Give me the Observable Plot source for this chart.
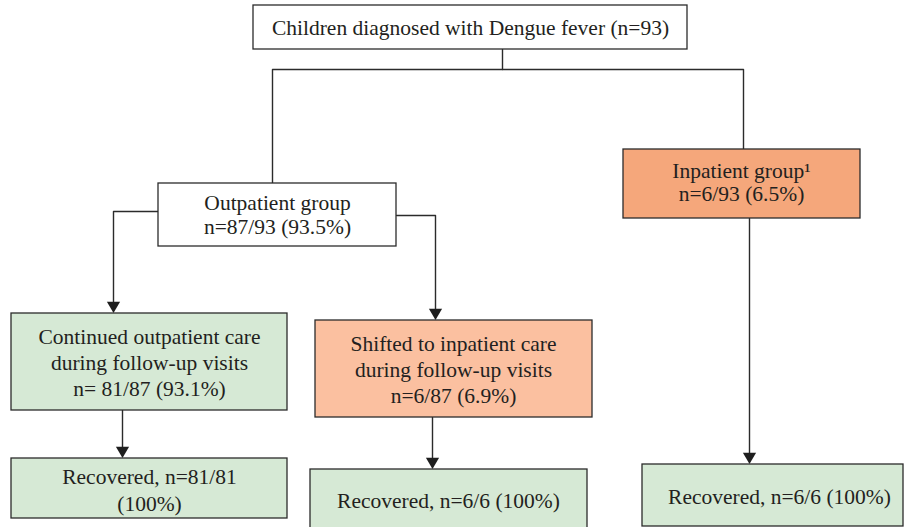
<!DOCTYPE html>
<html>
<head>
<meta charset="utf-8">
<script src="https://cdn.jsdelivr.net/npm/d3@7"></script>
<script src="https://cdn.jsdelivr.net/npm/@observablehq/plot@0.6"></script>
<style>
  html, body { margin: 0; padding: 0; background: #fff; }
  #chart svg { display: block; }
</style>
</head>
<body>
<div id="chart"></div>
<script>
// ---- data ----
const nodeIds = ["all", "outpatient", "inpatient", "continued", "shifted", "recovered1", "recovered2", "recovered3"];
const nodeLabels = [
  "Children diagnosed with Dengue fever (n=93)",
  "Outpatient group\nn=87/93 (93.5%)",
  "Inpatient group¹\nn=6/93 (6.5%)",
  "Continued outpatient care\nduring follow-up visits\nn= 81/87 (93.1%)",
  "Shifted to inpatient care\nduring follow-up visits\nn=6/87 (6.9%)",
  "Recovered, n=81/81\n(100%)",
  "Recovered, n=6/6 (100%)",
  "Recovered, n=6/6 (100%)"
];
const nodeCounts = [93, 87, 6, 81, 6, 81, 6, 6];
const nodeKinds = ["neutral", "neutral", "inpatient", "recovered", "shifted", "recovered", "recovered", "recovered"];

// ---- layout (pixel positions of the boxes) ----
const boxX1 = [253, 158, 623, 11, 315, 11, 310, 642];
const boxX2 = [687, 396, 860, 287, 592, 287, 587, 903];
const boxY1 = [5, 183, 149, 313, 320, 458, 469, 464];
const boxY2 = [49, 246, 218, 410, 417, 518, 540, 526];
const textX = [470, 277, 741, 149, 453, 149, 448, 779];
const textY = [27, 214, 182, 361, 368, 488, 499, 495];
const lineH = [1.1, 1.08, 1.07, 1.21, 1.23, 1.25, 1.2, 1.2];

const fills = {neutral: "#ffffff", inpatient: "#f5a77b", shifted: "#fbc0a0", recovered: "#d6e9d5"};

const nodes = nodeIds.map((id, i) => ({
  id, label: nodeLabels[i], n: nodeCounts[i], kind: nodeKinds[i],
  x1: boxX1[i], x2: boxX2[i], y1: boxY1[i], y2: boxY2[i],
  tx: textX[i], ty: textY[i], lh: lineH[i]
}));

// connector paths (elbow lines)
const connectors = [
  {id: "a", pts: [[502, 49], [502, 69]]},
  {id: "b", pts: [[272, 183], [272, 69], [743, 69], [743, 149]]},
  {id: "c", pts: [[158, 211], [113, 211], [113, 306]]},
  {id: "d", pts: [[396, 215], [435, 215], [435, 313]]},
  {id: "e", pts: [[749, 218], [749, 457]]},
  {id: "f", pts: [[122, 410], [122, 451]]},
  {id: "g", pts: [[432, 417], [432, 462]]}
];
const linePts = connectors.flatMap(c => c.pts.map(([x, y]) => ({id: c.id, x, y})));
const arrowTips = [[113, 312], [435, 319], [749, 463], [122, 457], [432, 468]].map(([x, y]) => ({x, y: y - 7}));

const plot = Plot.plot({
  width: 904,
  height: 527,
  margin: 0,
  x: {domain: [0, 904], range: [0, 904], axis: null},
  y: {domain: [0, 527], range: [0, 527], axis: null},
  style: {fontFamily: "'Liberation Serif', 'DejaVu Serif', serif", background: "#fff"},
  marks: [
    Plot.line(linePts, {x: "x", y: "y", z: "id", stroke: "#2b2b2b", strokeWidth: 1.4, curve: "linear"}),
    Plot.dot(arrowTips, {x: "x", y: "y", symbol: "triangle", rotate: 180, r: 4.9, fill: "#1e1e1e", stroke: "none"}),
    Plot.rect(nodes, {x1: "x1", x2: "x2", y1: "y1", y2: "y2", fill: d => fills[d.kind], stroke: "#2b2b2b", strokeWidth: 1.3}),
    ...nodes.map(d => Plot.text([d], {x: "tx", y: "ty", text: "label", lineHeight: d.lh, fontSize: 21.5, fill: "#231f20", textAnchor: "middle"}))
  ]
});
document.getElementById("chart").appendChild(plot);
</script>
</body>
</html>
